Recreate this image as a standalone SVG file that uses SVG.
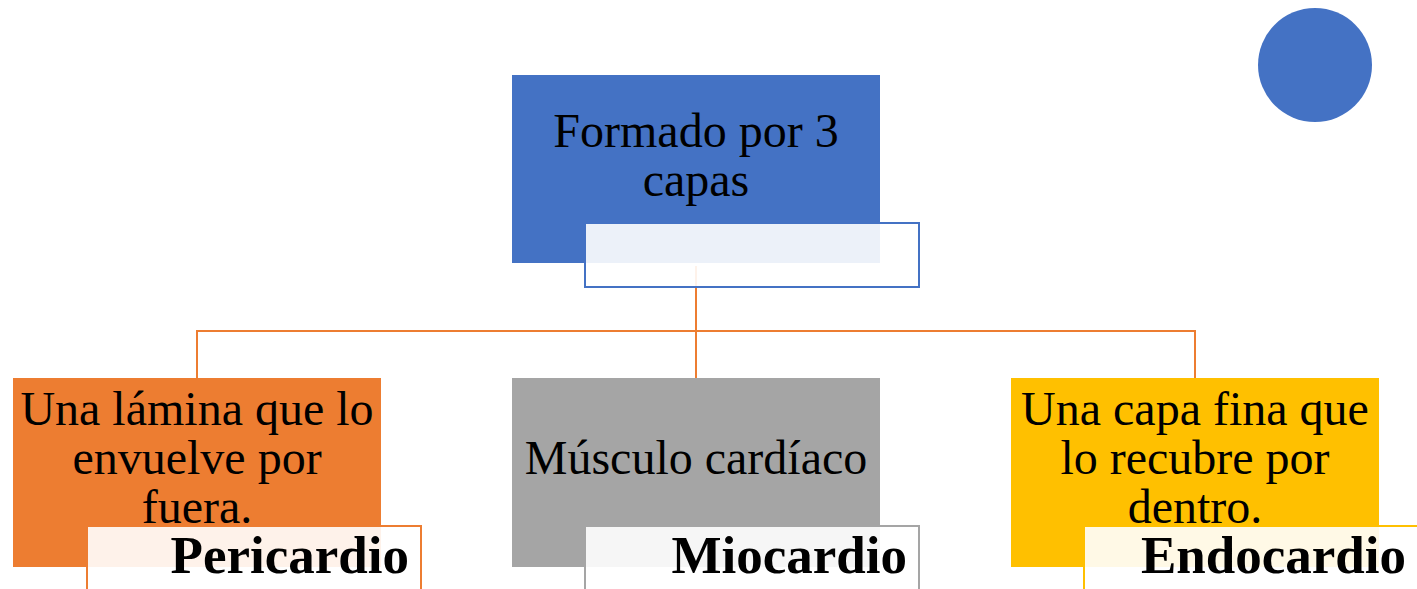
<svg xmlns="http://www.w3.org/2000/svg" width="1417" height="589" viewBox="0 0 1417 589">
<style>
.t{font-family:"Liberation Serif","Times New Roman",serif;font-size:48px;fill:#000;text-anchor:middle}
.b{font-family:"Liberation Serif","Times New Roman",serif;font-size:53px;font-weight:bold;fill:#000;text-anchor:end}
.lbl{fill:#fff;fill-opacity:0.9;stroke-width:2}
.con{stroke:#ED7D31;stroke-width:2;fill:none}
</style>
<rect width="1417" height="589" fill="#fff"/>
<circle id="dot" cx="1315" cy="65" r="57" fill="#4472C4"/>
<g id="connectors">
<path class="con" d="M696,266 V378"/>
<path class="con" d="M197,378 V331 H1195 V378"/>
</g>
<g id="root">
<rect x="512" y="75" width="368" height="188" fill="#4472C4"/>
<rect class="lbl" x="585" y="223" width="334" height="64" stroke="#4472C4"/>
<text class="t" x="696" y="147">Formado por 3</text>
<text class="t" x="696" y="196">capas</text>
</g>
<g id="pericardio">
<rect x="13" y="378" width="368" height="189" fill="#ED7D31"/>
<text class="t" x="197" y="425">Una lámina que lo</text>
<text class="t" x="197" y="474">envuelve por</text>
<text class="t" x="197" y="523">fuera.</text>
<rect class="lbl" x="87" y="526" width="334" height="70" stroke="#ED7D31"/>
<text class="b" x="409" y="573">Pericardio</text>
</g>
<g id="miocardio">
<rect x="512" y="378" width="368" height="189" fill="#A5A5A5"/>
<text class="t" x="696" y="474">Músculo cardíaco</text>
<rect class="lbl" x="585" y="526" width="334" height="70" stroke="#A5A5A5"/>
<text class="b" x="907" y="573">Miocardio</text>
</g>
<g id="endocardio">
<rect x="1011" y="378" width="368" height="189" fill="#FFC000"/>
<text class="t" x="1195" y="425">Una capa fina que</text>
<text class="t" x="1195" y="474">lo recubre por</text>
<text class="t" x="1195" y="523">dentro.</text>
<rect class="lbl" x="1084" y="526" width="334" height="70" stroke="#FFC000"/>
<text class="b" x="1406" y="573">Endocardio</text>
</g>
</svg>
